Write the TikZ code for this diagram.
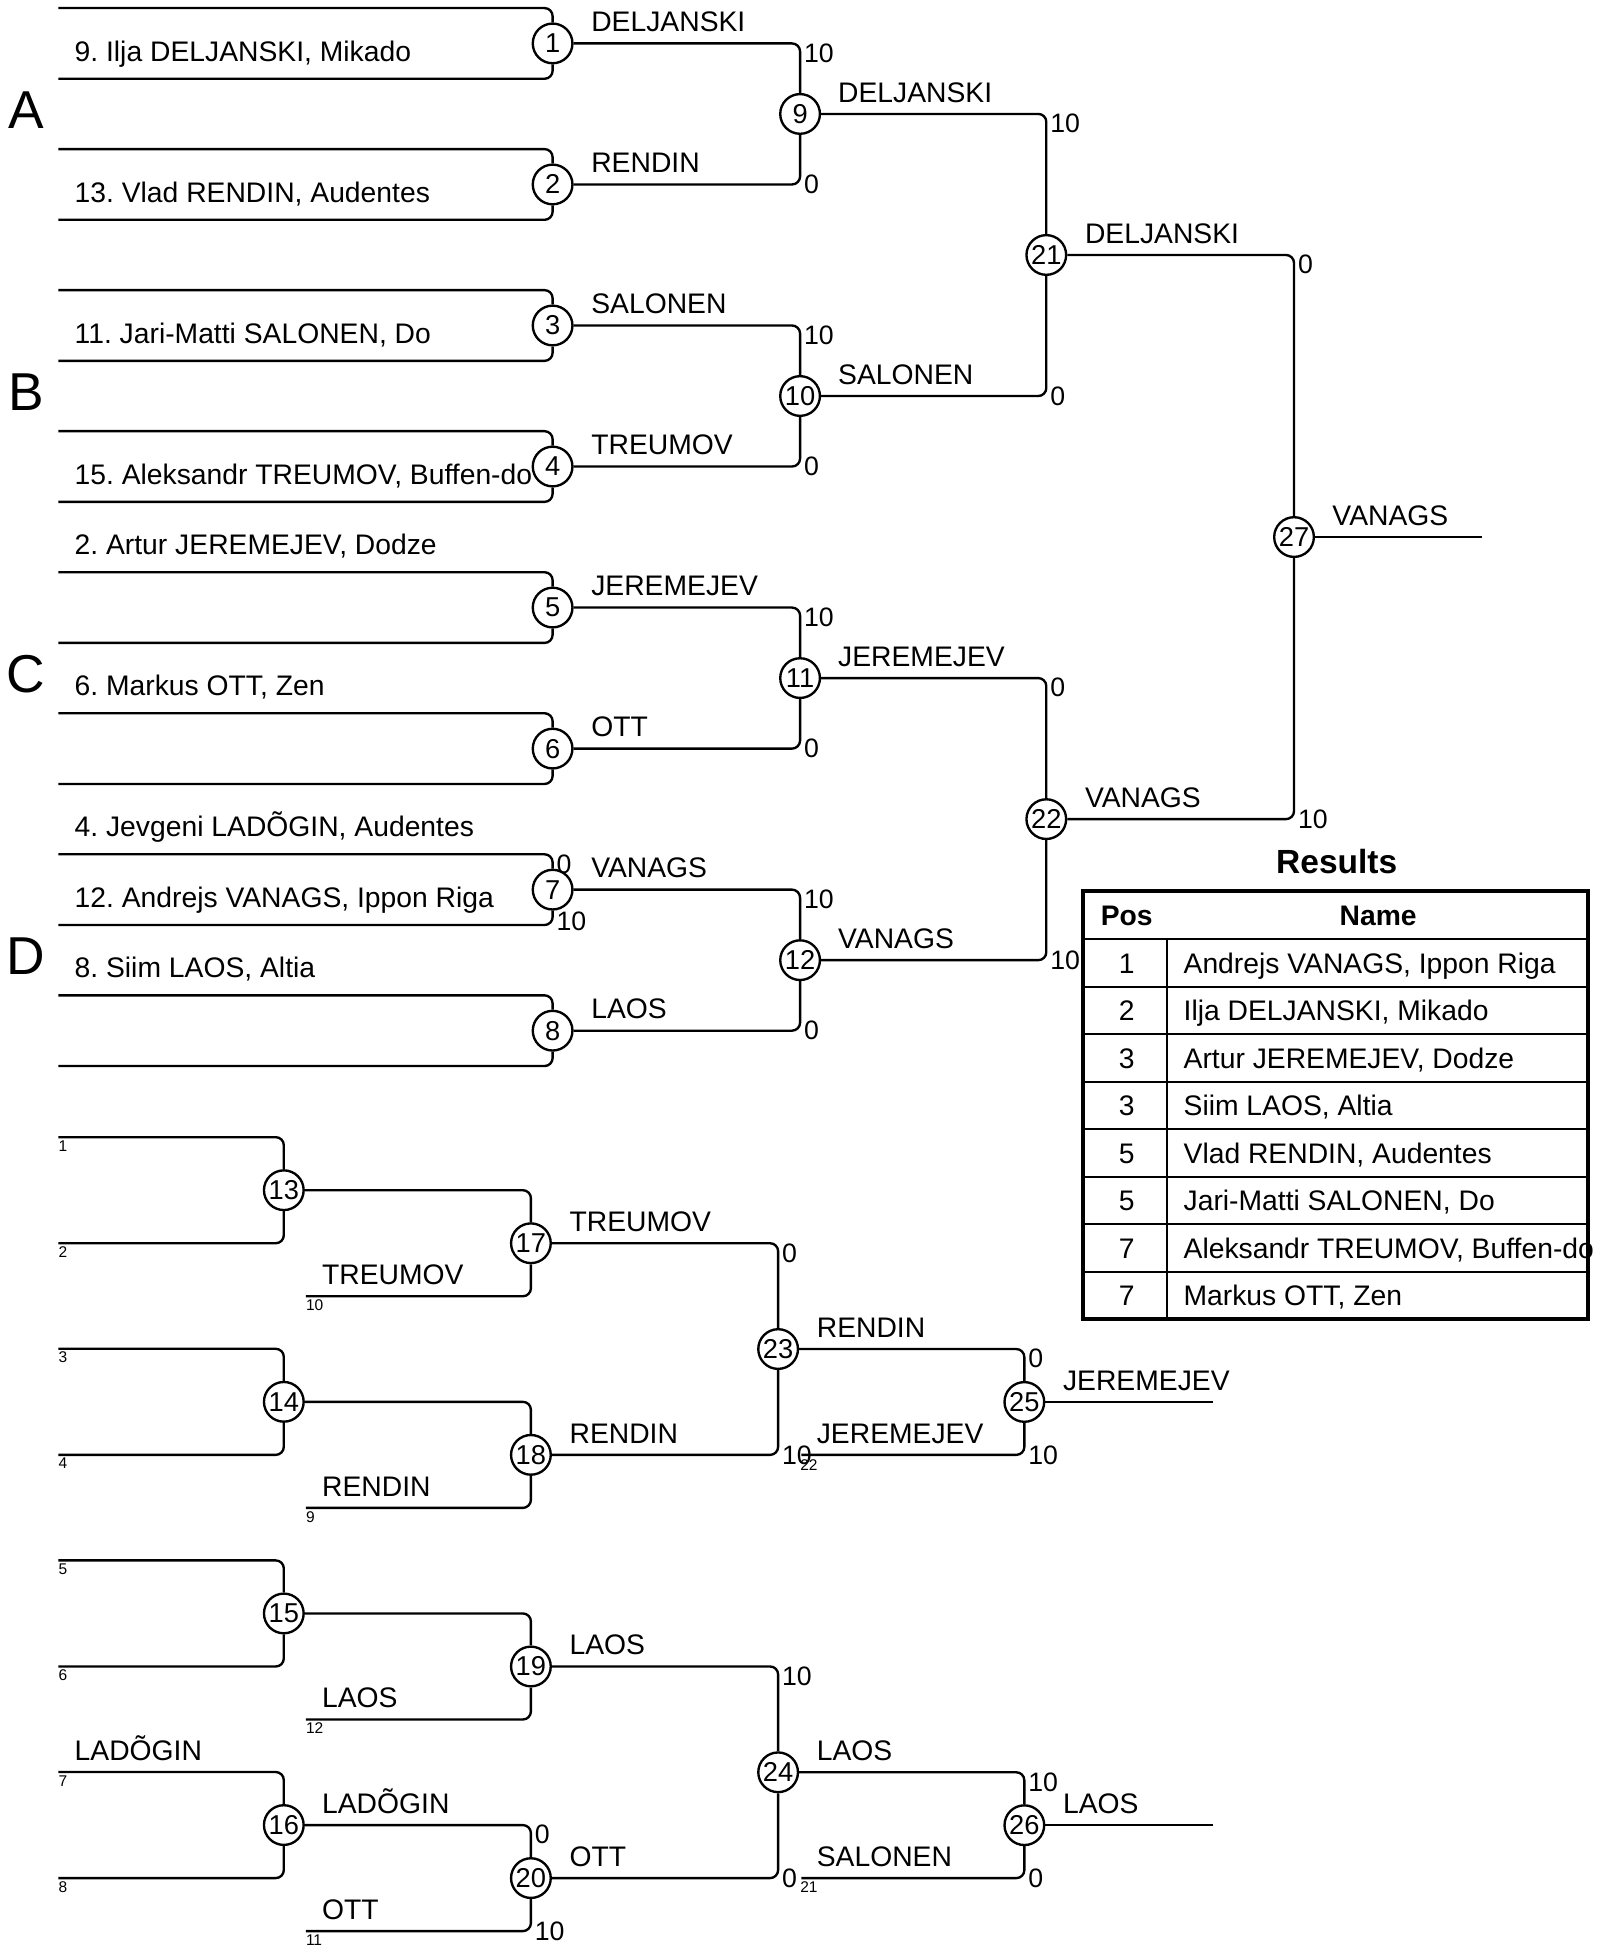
\documentclass[tikz,border=0pt]{standalone}
\usepackage{fontspec}
\setmainfont{Liberation Sans}
\frenchspacing
\pgfdeclarelayer{bg}
\pgfsetlayers{bg,main}
\tikzset{
  bout/.style={circle, draw, fill=white, line width=1.9pt, minimum size=32pt, inner sep=0pt, font=\fontsize{22}{22}\selectfont},
  conn/.style={draw, line width=1.9pt, rounded corners=6.5pt},
  nm/.style={anchor=base west, inner sep=0pt, font=\fontsize{22.8}{26}\selectfont},
  sc/.style={inner sep=0pt, font=\fontsize{21.5}{23}\selectfont},
  scu/.style={sc, anchor=north west},
  scl/.style={sc, anchor=west},
  sm/.style={anchor=north west, inner sep=0pt, font=\fontsize{12.5}{13}\selectfont},
  sect/.style={inner sep=0pt, font=\fontsize{43}{43}\selectfont},
  tbl/.style={inner sep=0pt, font=\fontsize{22.8}{26}\selectfont},
  tblb/.style={inner sep=0pt, font=\fontsize{22.8}{26}\selectfont\bfseries},
}
\begin{document}
\begin{tikzpicture}[x=1pt,y=-1pt]
\useasboundingbox (0,0) rectangle (1302,1568);

% ---------------- main bracket: bouts ----------------
\node[bout] (m1) at (445.5,35) {1};
\node[bout] (m2) at (445.5,148.7) {2};
\node[bout] (m3) at (445.5,262.4) {3};
\node[bout] (m4) at (445.5,376.1) {4};
\node[bout] (m5) at (445.5,489.8) {5};
\node[bout] (m6) at (445.5,603.5) {6};
\node[bout] (m7) at (445.5,717.2) {7};
\node[bout] (m8) at (445.5,830.9) {8};
\node[bout] (m9) at (645,91.85) {9};
\node[bout] (m10) at (645,319.25) {10};
\node[bout] (m11) at (645,546.65) {11};
\node[bout] (m12) at (645,774.05) {12};
\node[bout] (m21) at (843.5,205.55) {21};
\node[bout] (m22) at (843.5,660.35) {22};
\node[bout] (m27) at (1043.2,432.95) {27};

% entry points
\coordinate (p1t) at (47,6.5);    \coordinate (p1b) at (47,63.5);
\coordinate (p2t) at (47,120.2);  \coordinate (p2b) at (47,177.2);
\coordinate (p3t) at (47,233.9);  \coordinate (p3b) at (47,290.9);
\coordinate (p4t) at (47,347.6);  \coordinate (p4b) at (47,404.6);
\coordinate (p5t) at (47,461.3);  \coordinate (p5b) at (47,518.3);
\coordinate (p6t) at (47,575);    \coordinate (p6b) at (47,632);
\coordinate (p7t) at (47,688.7);  \coordinate (p7b) at (47,745.7);
\coordinate (p8t) at (47,802.4);  \coordinate (p8b) at (47,859.4);
\coordinate (fin) at (1195,432.95);

% connectors
\foreach \k in {1,...,8} {
  \draw[conn] (p\k t) -| (m\k);
  \draw[conn] (p\k b) -| (m\k);
}
\draw[conn] (m1) -| (m9);  \draw[conn] (m2) -| (m9);
\draw[conn] (m3) -| (m10); \draw[conn] (m4) -| (m10);
\draw[conn] (m5) -| (m11); \draw[conn] (m6) -| (m11);
\draw[conn] (m7) -| (m12); \draw[conn] (m8) -| (m12);
\draw[conn] (m9) -| (m21); \draw[conn] (m10) -| (m21);
\draw[conn] (m11) -| (m22); \draw[conn] (m12) -| (m22);
\draw[conn] (m21) -| (m27); \draw[conn] (m22) -| (m27);
\draw[conn] (m27) -- (fin);

% player names (behind bouts)
\begin{pgfonlayer}{bg}
\node[nm] (pn1) at (60,49.5) {9. Ilja DELJANSKI, Mikado};
\node[nm] (pn2) at (60,163.2) {13. Vlad RENDIN, Audentes};
\node[nm] (pn3) at (60,276.9) {11. Jari-Matti SALONEN, Do};
\node[nm] (pn4) at (60,390.6) {15. Aleksandr TREUMOV, Buffen-do};
\node[nm] (pn5) at (60,447.3) {2. Artur JEREMEJEV, Dodze};
\node[nm] (pn6) at (60,561) {6. Markus OTT, Zen};
\node[nm] (pn7) at (60,674.7) {4. Jevgeni LADÕGIN, Audentes};
\node[nm] (pn8) at (60,731.7) {12. Andrejs VANAGS, Ippon Riga};
\node[nm] (pn9) at (60,788.4) {8. Siim LAOS, Altia};
\end{pgfonlayer}

% section letters
\node[sect] (secA) at (21,88.9) {A};
\node[sect] (secB) at (21,316.3) {B};
\node[sect] (secC) at (21,543.7) {C};
\node[sect] (secD) at (21,771) {D};

% winner labels
\node[nm] (w1) at (476.5,25.5) {DELJANSKI};
\node[nm] (w2) at (476.5,139.2) {RENDIN};
\node[nm] (w3) at (476.5,252.9) {SALONEN};
\node[nm] (w4) at (476.5,366.6) {TREUMOV};
\node[nm] (w5) at (476.5,480.3) {JEREMEJEV};
\node[nm] (w6) at (476.5,594) {OTT};
\node[nm] (w7) at (476.5,707.7) {VANAGS};
\node[nm] (w8) at (476.5,821.4) {LAOS};
\node[nm] (w9) at (675.5,82.35) {DELJANSKI};
\node[nm] (w10) at (675.5,309.75) {SALONEN};
\node[nm] (w11) at (675.5,537.15) {JEREMEJEV};
\node[nm] (w12) at (675.5,764.55) {VANAGS};
\node[nm] (w21) at (874.5,196.05) {DELJANSKI};
\node[nm] (w22) at (874.5,650.85) {VANAGS};
\node[nm] (w27) at (1074,423.45) {VANAGS};

% scores main
\node[scu] (s7a) at (448.5,688.7) {0};
\node[scl] (s7b) at (448.5,742.7) {10};
\node[scu] (s9a) at (648,35) {10};
\node[scl] (s9b) at (648,148.7) {0};
\node[scu] (s10a) at (648,262.4) {10};
\node[scl] (s10b) at (648,376.1) {0};
\node[scu] (s11a) at (648,489.8) {10};
\node[scl] (s11b) at (648,603.5) {0};
\node[scu] (s12a) at (648,717.2) {10};
\node[scl] (s12b) at (648,830.9) {0};
\node[scu] (s21a) at (846.5,91.85) {10};
\node[scl] (s21b) at (846.5,319.25) {0};
\node[scu] (s22a) at (846.5,546.65) {0};
\node[scl] (s22b) at (846.5,774.05) {10};
\node[scu] (s27a) at (1046.2,205.55) {0};
\node[scl] (s27b) at (1046.2,660.35) {10};

% ---------------- repechage bracket ----------------
\node[bout] (m13) at (228.8,959.5) {13};
\node[bout] (m14) at (228.8,1130.1) {14};
\node[bout] (m15) at (228.8,1300.7) {15};
\node[bout] (m16) at (228.8,1471.3) {16};
\node[bout] (m17) at (428,1002.25) {17};
\node[bout] (m18) at (428,1172.85) {18};
\node[bout] (m19) at (428,1343.45) {19};
\node[bout] (m20) at (428,1514.05) {20};
\node[bout] (m23) at (627.3,1087.55) {23};
\node[bout] (m24) at (627.3,1428.75) {24};
\node[bout] (m25) at (825.8,1130.2) {25};
\node[bout] (m26) at (825.8,1471.4) {26};

\coordinate (q1) at (47,916.75);  \coordinate (q2) at (47,1002.25);
\coordinate (q3) at (47,1087.35); \coordinate (q4) at (47,1172.85);
\coordinate (q5) at (47,1257.95); \coordinate (q6) at (47,1343.45);
\coordinate (q7) at (47,1428.55); \coordinate (q8) at (47,1514.05);
\coordinate (r17) at (246.5,1045);
\coordinate (r18) at (246.5,1215.6);
\coordinate (r19) at (246.5,1386.2);
\coordinate (r20) at (246.5,1556.8);
\coordinate (r25) at (646,1172.85);
\coordinate (r26) at (646,1514.05);
\coordinate (o25) at (978,1130.2);
\coordinate (o26) at (978,1471.4);

\draw[conn] (q1) -| (m13); \draw[conn] (q2) -| (m13);
\draw[conn] (q3) -| (m14); \draw[conn] (q4) -| (m14);
\draw[conn] (q5) -| (m15); \draw[conn] (q6) -| (m15);
\draw[conn] (q7) -| (m16); \draw[conn] (q8) -| (m16);
\draw[conn] (m13) -| (m17); \draw[conn] (r17) -| (m17);
\draw[conn] (m14) -| (m18); \draw[conn] (r18) -| (m18);
\draw[conn] (m15) -| (m19); \draw[conn] (r19) -| (m19);
\draw[conn] (m16) -| (m20); \draw[conn] (r20) -| (m20);
\draw[conn] (m17) -| (m23); \draw[conn] (m18) -| (m23);
\draw[conn] (m19) -| (m24); \draw[conn] (m20) -| (m24);
\draw[conn] (m23) -| (m25); \draw[conn] (r25) -| (m25);
\draw[conn] (m24) -| (m26); \draw[conn] (r26) -| (m26);
\draw[conn] (m25) -- (o25);
\draw[conn] (m26) -- (o26);

% small seed labels
\node[sm] (t1) at (47,919.25) {1};
\node[sm] (t2) at (47,1004.75) {2};
\node[sm] (t3) at (47,1089.85) {3};
\node[sm] (t4) at (47,1175.35) {4};
\node[sm] (t5) at (47,1260.45) {5};
\node[sm] (t6) at (47,1345.95) {6};
\node[sm] (t7) at (47,1431.05) {7};
\node[sm] (t8) at (47,1516.55) {8};
\node[sm] (t10) at (246.5,1047.5) {10};
\node[sm] (t9) at (246.5,1218.1) {9};
\node[sm] (t12) at (246.5,1388.7) {12};
\node[sm] (t11) at (246.5,1559.3) {11};
\node[sm] (t22) at (645,1176.5) {22};
\node[sm] (t21) at (645,1516.5) {21};

% repechage names
\node[nm] (l7) at (60,1419.05) {LADÕGIN};
\node[nm] (l17) at (259.5,1035.5) {TREUMOV};
\node[nm] (l18) at (259.5,1206.1) {RENDIN};
\node[nm] (l19) at (259.5,1376.7) {LAOS};
\node[nm] (l20) at (259.5,1547.3) {OTT};
\node[nm] (l16) at (259.5,1461.8) {LADÕGIN};
\node[nm] (v17) at (459,992.75) {TREUMOV};
\node[nm] (v18) at (459,1163.35) {RENDIN};
\node[nm] (v19) at (459,1333.95) {LAOS};
\node[nm] (v20) at (459,1504.55) {OTT};
\node[nm] (v23) at (658.3,1078.05) {RENDIN};
\node[nm] (v24) at (658.3,1419.25) {LAOS};
\node[nm] (l25) at (658.3,1163.35) {JEREMEJEV};
\node[nm] (l26) at (658.3,1504.55) {SALONEN};
\node[nm] (v25) at (856.8,1120.7) {JEREMEJEV};
\node[nm] (v26) at (856.8,1461.9) {LAOS};

% repechage scores
\node[scu] (s20a) at (431,1471.3) {0};
\node[scl] (s20b) at (431,1556.8) {10};
\node[scu] (s23a) at (630.3,1002.25) {0};
\node[scl] (s23b) at (630.3,1172.85) {10};
\node[scu] (s24a) at (630.3,1343.45) {10};
\node[scl] (s24b) at (630.3,1514.05) {0};
\node[scu] (s25a) at (828.8,1087.55) {0};
\node[scl] (s25b) at (828.8,1172.85) {10};
\node[scu] (s26a) at (828.8,1428.75) {10};
\node[scl] (s26b) at (828.8,1514.05) {0};

% ---------------- results table ----------------
\node[anchor=base, inner sep=0pt, font=\fontsize{27}{30}\selectfont\bfseries] (restitle) at (1077.6,704) {Results};
\node[tblb, anchor=base] (hpos) at (908.3,745.9) {Pos};
\node[tblb, anchor=base] (hname) at (1111,745.9) {Name};

\node[tbl, anchor=base] (r1p) at (908.3,784.4) {1};
\node[tbl, anchor=base west] (r1n) at (954,784.4) {Andrejs VANAGS, Ippon Riga};
\node[tbl, anchor=base] (r2p) at (908.3,822.7) {2};
\node[tbl, anchor=base west] (r2n) at (954,822.7) {Ilja DELJANSKI, Mikado};
\node[tbl, anchor=base] (r3p) at (908.3,861) {3};
\node[tbl, anchor=base west] (r3n) at (954,861) {Artur JEREMEJEV, Dodze};
\node[tbl, anchor=base] (r4p) at (908.3,899.4) {3};
\node[tbl, anchor=base west] (r4n) at (954,899.4) {Siim LAOS, Altia};
\node[tbl, anchor=base] (r5p) at (908.3,937.7) {5};
\node[tbl, anchor=base west] (r5n) at (954,937.7) {Vlad RENDIN, Audentes};
\node[tbl, anchor=base] (r6p) at (908.3,976) {5};
\node[tbl, anchor=base west] (r6n) at (954,976) {Jari-Matti SALONEN, Do};
\node[tbl, anchor=base] (r7p) at (908.3,1014.4) {7};
\node[tbl, anchor=base west] (r7n) at (954,1014.4) {Aleksandr TREUMOV, Buffen-do};
\node[tbl, anchor=base] (r8p) at (908.3,1052.7) {7};
\node[tbl, anchor=base west] (r8n) at (954,1052.7) {Markus OTT, Zen};

\draw[line width=1.6pt] (872.9,757) -- (1280,757);
\foreach \yy in {795.3,833.7,872,910.3,948.7,987,1025.3}
  \draw[line width=1.6pt] (872.9,\yy) -- (1280,\yy);
\draw[line width=1.6pt] (940.6,757) -- (940.6,1063.6);
\draw[line width=3.2pt] (872.9,718.4) rectangle (1280,1063.6);

\end{tikzpicture}
\end{document}
